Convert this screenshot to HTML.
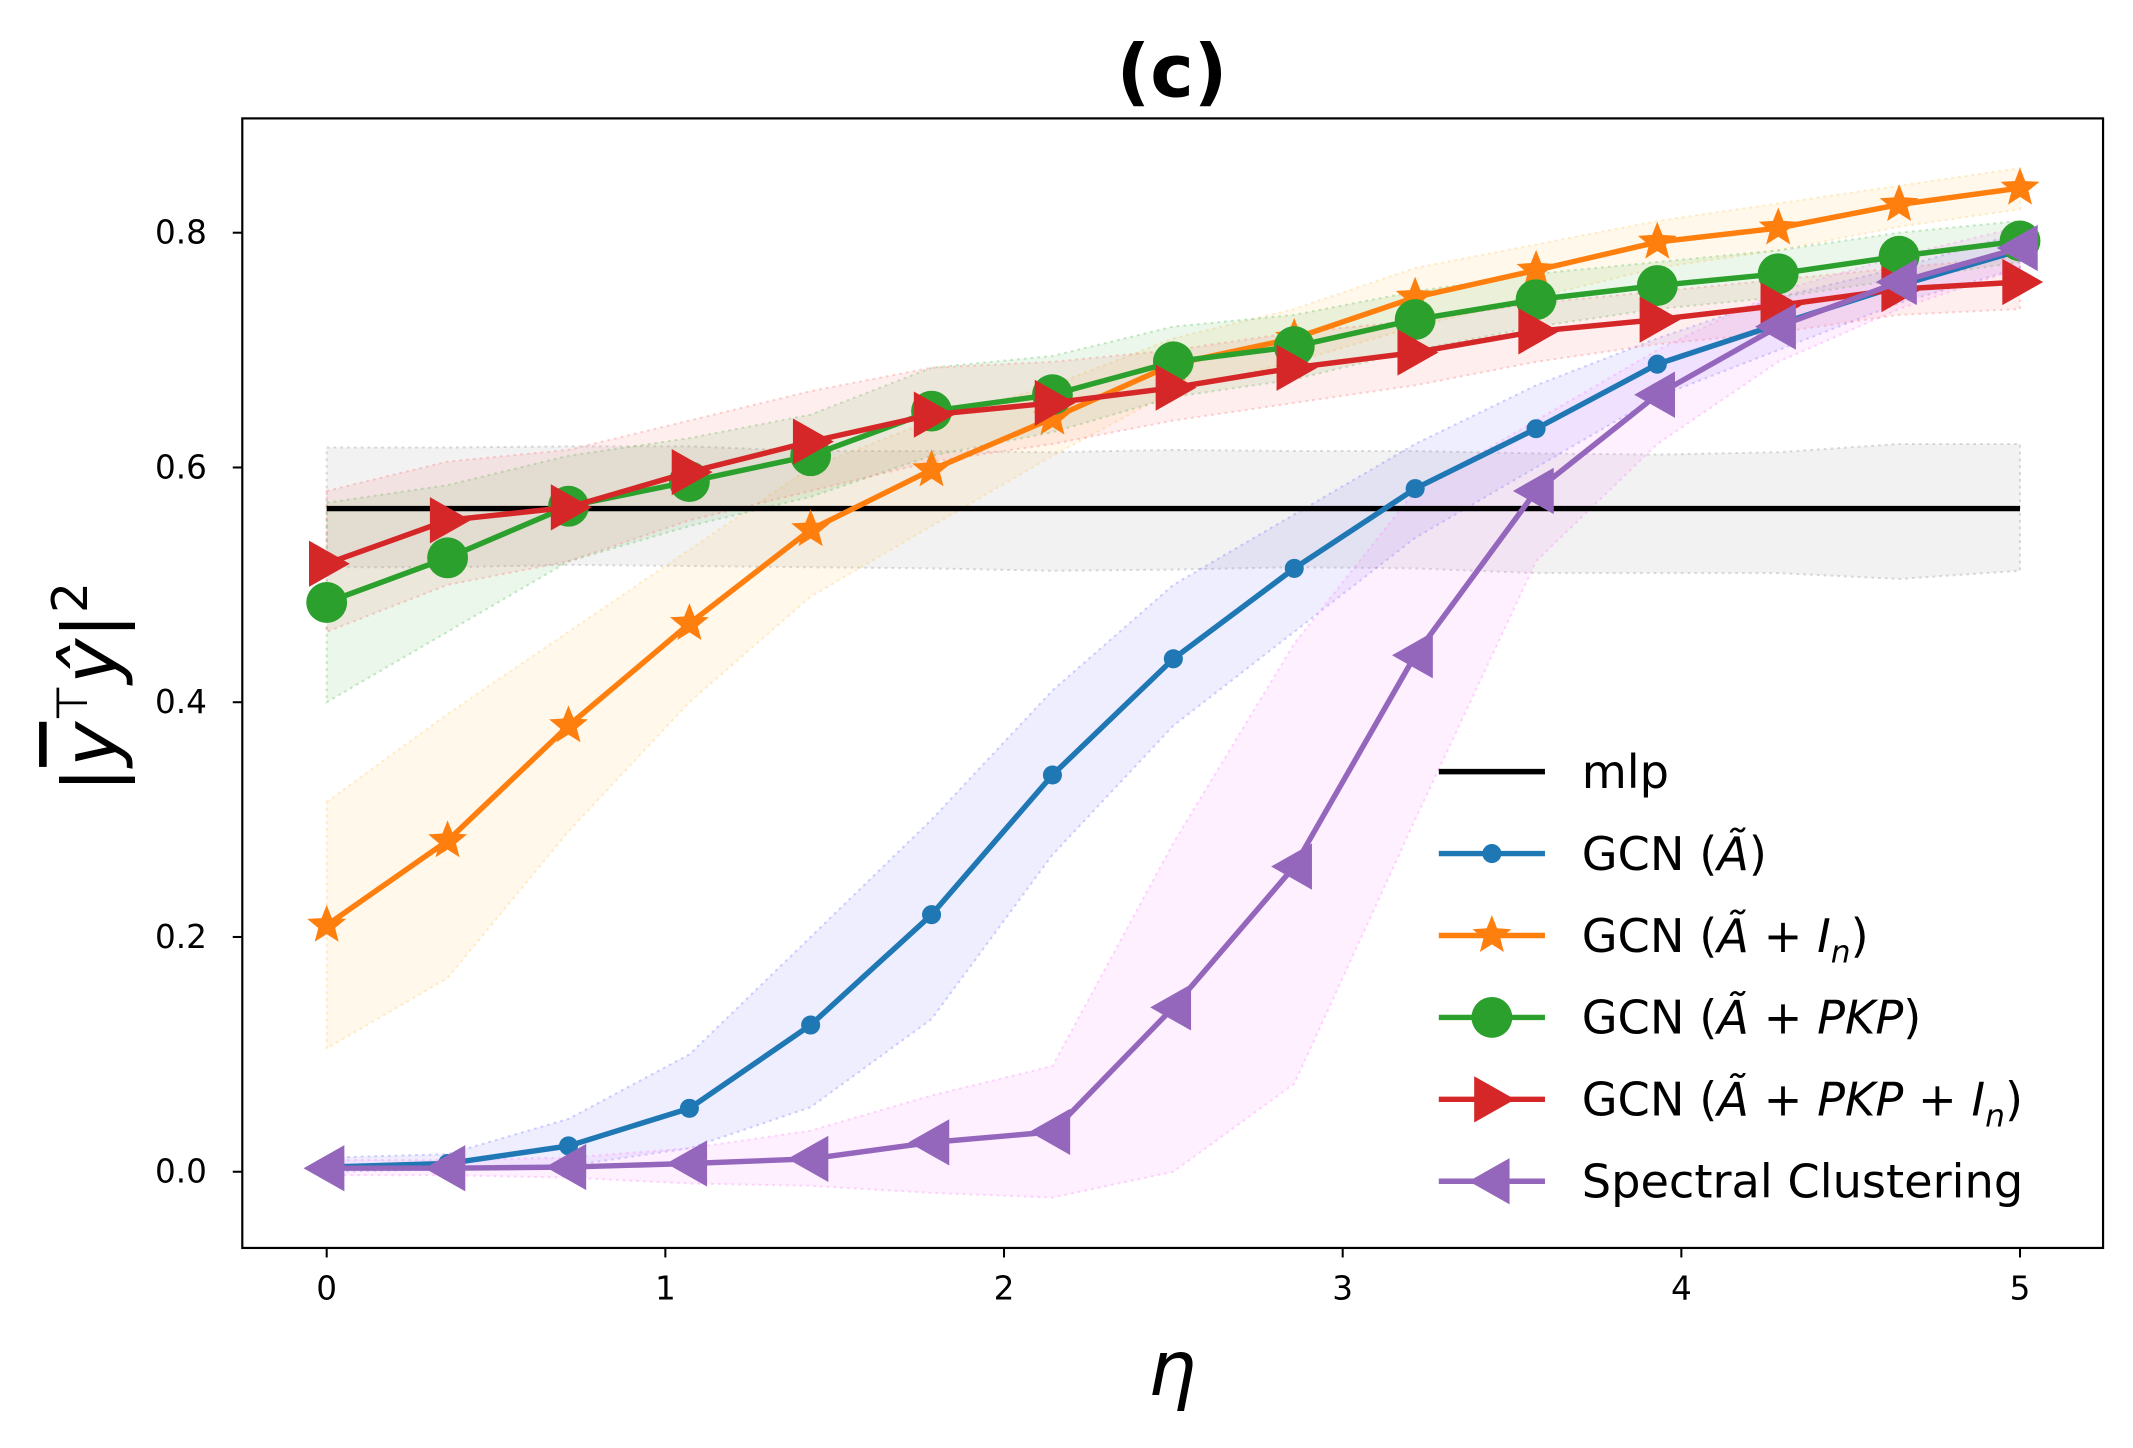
<!DOCTYPE html>
<html><head><meta charset="utf-8"><style>
html,body{margin:0;padding:0;background:#fff}
svg{display:block}
text{font-family:"DejaVu Sans","Liberation Sans",sans-serif}
</style></head><body>
<svg id="chart" width="2133" height="1448" viewBox="0 0 1567 1064" preserveAspectRatio="none" xmlns="http://www.w3.org/2000/svg">
<rect x="0" y="0" width="1567" height="1064" fill="#fff"/>
<g id="bands"></g><g id="lines"></g>
<rect x="178" y="87" width="1367" height="830" fill="none" stroke="#000" stroke-width="1.6"/>
<g id="axes"></g>
<text x="861" y="71" text-anchor="middle" font-size="54" font-weight="bold">(c)</text>
<text x="861" y="1025" text-anchor="middle" font-size="56" font-style="italic" font-family="DejaVu Sans, sans-serif">η</text>
<text transform="translate(86,505) rotate(-90)" text-anchor="middle" font-size="56" font-style="italic" font-family="DejaVu Sans, sans-serif"><tspan font-style="normal">|</tspan><tspan text-decoration="overline">y</tspan><tspan font-size="32" dy="-22" font-style="normal">⊤</tspan><tspan dy="22">ŷ</tspan><tspan font-style="normal">|</tspan><tspan font-size="36" dy="-22" font-style="normal">2</tspan></text>
<g id="legend"></g>
</svg>
<script>
const xs=[0,0.357,0.714,1.071,1.429,1.786,2.143,2.5,2.857,3.214,3.571,3.929,4.286,4.643,5];
const xTicks=[0,1,2,3,4,5];
const yTicks=[0.0,0.2,0.4,0.6,0.8];
const mlpMean=[0.565,0.565,0.565,0.565,0.565,0.565,0.565,0.565,0.565,0.565,0.565,0.565,0.565,0.565,0.565];
const mlpLo=[0.515,0.515,0.517,0.516,0.515,0.514,0.512,0.513,0.515,0.514,0.51,0.51,0.51,0.505,0.512];
const mlpHi=[0.617,0.617,0.618,0.618,0.614,0.614,0.613,0.615,0.614,0.614,0.612,0.611,0.613,0.62,0.62];
const gcnA=[0.004,0.007,0.022,0.054,0.125,0.219,0.338,0.437,0.514,0.582,0.633,0.688,0.722,0.755,0.785];
const gcnALo=[0,0.002,0.005,0.02,0.055,0.13,0.27,0.38,0.46,0.54,0.6,0.66,0.7,0.74,0.77];
const gcnAHi=[0.012,0.015,0.045,0.1,0.2,0.3,0.41,0.5,0.56,0.62,0.67,0.71,0.745,0.77,0.8];
const gcnAI=[0.21,0.282,0.38,0.467,0.547,0.598,0.642,0.688,0.71,0.745,0.768,0.792,0.804,0.824,0.838];
const gcnAILo=[0.105,0.165,0.29,0.4,0.49,0.55,0.61,0.665,0.69,0.72,0.745,0.77,0.785,0.805,0.82];
const gcnAIHi=[0.315,0.39,0.46,0.53,0.6,0.64,0.67,0.71,0.735,0.77,0.79,0.81,0.825,0.84,0.855];
const gcnPKP=[0.485,0.523,0.567,0.588,0.61,0.648,0.662,0.69,0.703,0.726,0.743,0.755,0.765,0.78,0.793];
const gcnPKPLo=[0.4,0.46,0.52,0.55,0.575,0.61,0.63,0.66,0.675,0.7,0.72,0.735,0.745,0.76,0.775];
const gcnPKPHi=[0.57,0.585,0.61,0.625,0.645,0.685,0.695,0.72,0.73,0.75,0.765,0.775,0.785,0.8,0.81];
const gcnPKPI=[0.518,0.555,0.566,0.596,0.622,0.645,0.655,0.668,0.685,0.698,0.716,0.726,0.738,0.752,0.758];
const gcnPKPILo=[0.46,0.5,0.52,0.555,0.58,0.605,0.62,0.64,0.655,0.67,0.69,0.705,0.715,0.73,0.735];
const gcnPKPIHi=[0.58,0.605,0.615,0.64,0.665,0.685,0.69,0.7,0.715,0.725,0.74,0.75,0.76,0.77,0.78];
const spec=[0.003,0.003,0.004,0.007,0.011,0.025,0.034,0.14,0.26,0.44,0.58,0.662,0.72,0.758,0.787];
const specLo=[-0.003,-0.003,-0.005,-0.01,-0.012,-0.018,-0.022,0,0.075,0.3,0.52,0.62,0.69,0.735,0.77];
const specHi=[0.01,0.01,0.012,0.02,0.035,0.065,0.09,0.28,0.45,0.58,0.64,0.7,0.75,0.78,0.805];
const seriesLabels=['mlp','GCN (<tspan font-style="italic">Ã</tspan>)','GCN (<tspan font-style="italic">Ã</tspan> + <tspan font-style="italic">I<tspan font-size="23" dy="8">n</tspan></tspan><tspan dy="-8">)</tspan>','GCN (<tspan font-style="italic">Ã</tspan> + <tspan font-style="italic">PKP</tspan>)','GCN (<tspan font-style="italic">Ã</tspan> + <tspan font-style="italic">PKP</tspan> + <tspan font-style="italic">I<tspan font-size="23" dy="8">n</tspan></tspan><tspan dy="-8">)</tspan>','Spectral Clustering'];

const X=v=>240+v*248.8, Y=v=>861-v*862.5;
const NS="http://www.w3.org/2000/svg";
function mk(tag,attrs,parent){const e=document.createElementNS(NS,tag);for(const k in attrs)e.setAttribute(k,attrs[k]);parent.appendChild(e);return e;}
const gb=document.getElementById('bands'),gl=document.getElementById('lines'),ga=document.getElementById('axes'),gg=document.getElementById('legend');

const series=[
 {key:'mlp',m:mlpMean,lo:mlpLo,hi:mlpHi,c:'#000000',band:'#999999',mk:'none'},
 {key:'gcn-a',m:gcnA,lo:gcnALo,hi:gcnAHi,c:'#1f77b4',band:'#7b7bff',mk:'dot'},
 {key:'gcn-a-in',m:gcnAI,lo:gcnAILo,hi:gcnAIHi,c:'#ff7f0e',band:'#ffcc66',mk:'star'},
 {key:'gcn-a-pkp',m:gcnPKP,lo:gcnPKPLo,hi:gcnPKPHi,c:'#2ca02c',band:'#5fbf5f',mk:'circle'},
 {key:'gcn-a-pkp-in',m:gcnPKPI,lo:gcnPKPILo,hi:gcnPKPIHi,c:'#d62728',band:'#ff7a7a',mk:'right'},
 {key:'spectral',m:spec,lo:specLo,hi:specHi,c:'#9467bd',band:'#ff88ff',mk:'left'}
];
function marker(type,x,y,c,parent,name){
 let e;
 if(type==='dot'){e=mk('circle',{cx:x,cy:y,r:7,fill:c},parent);}
 else if(type==='circle'){e=mk('circle',{cx:x,cy:y,r:15,fill:c},parent);}
 else if(type==='star'){let p=[];for(let i=0;i<10;i++){const r=i%2?6.5:15,a=-Math.PI/2+i*Math.PI/5;p.push((x+r*Math.cos(a)).toFixed(1)+','+(y+r*Math.sin(a)).toFixed(1));}e=mk('polygon',{points:p.join(' '),fill:c},parent);}
 else if(type==='right'){e=mk('polygon',{points:`${x+17},${y} ${x-13},${y-17} ${x-13},${y+17}`,fill:c},parent);}
 else if(type==='left'){e=mk('polygon',{points:`${x-17},${y} ${x+13},${y-17} ${x+13},${y+17}`,fill:c},parent);}
 if(e){
 }
}
series.forEach(s=>{
 const up=xs.map((x,i)=>X(x)+','+Y(s.hi[i])),dn=xs.map((x,i)=>X(x)+','+Y(s.lo[i])).reverse();
 const b=mk('polygon',{points:up.concat(dn).join(' '),fill:s.band,'fill-opacity':0.13,stroke:s.band,'stroke-opacity':0.35,'stroke-dasharray':'2,3','stroke-width':1.5},gb);
 
 
});
series.forEach(s=>{
 const l=mk('polyline',{points:xs.map((x,i)=>X(x)+','+Y(s.m[i])).join(' '),fill:'none',stroke:s.c,'stroke-width':4},gl);
 
 
 if(s.mk!=='none')xs.forEach((x,i)=>marker(s.mk,X(x),Y(s.m[i]),s.c,gl,s.key+'-point'));
});
xTicks.forEach(t=>{
 const l=mk('line',{x1:X(t),x2:X(t),y1:917,y2:924,stroke:'#000','stroke-width':1.5},ga);
 
 
 const tx=mk('text',{x:X(t),y:955,'text-anchor':'middle','font-size':24},ga);tx.textContent=t;
 
 
});
yTicks.forEach(t=>{
 const l=mk('line',{x1:171,x2:178,y1:Y(t),y2:Y(t),stroke:'#000','stroke-width':1.5},ga);
 
 
 const tx=mk('text',{x:152,y:Y(t)+8,'text-anchor':'end','font-size':24},ga);tx.textContent=t.toFixed(1);
 
 
});
series.forEach((s,i)=>{
 const y=567+i*60.2;
 const g=mk('g',{},gg);
 
 
 mk('line',{x1:1057,x2:1135,y1:y,y2:y,stroke:s.c,'stroke-width':4},g);
 if(s.mk!=='none')marker(s.mk,1096,y,s.c,g,'legend-marker');
 const t=mk('text',{x:1162,y:y+12,'font-size':34},g);t.innerHTML=seriesLabels[i];
 
 
});
</script>
</body></html>
